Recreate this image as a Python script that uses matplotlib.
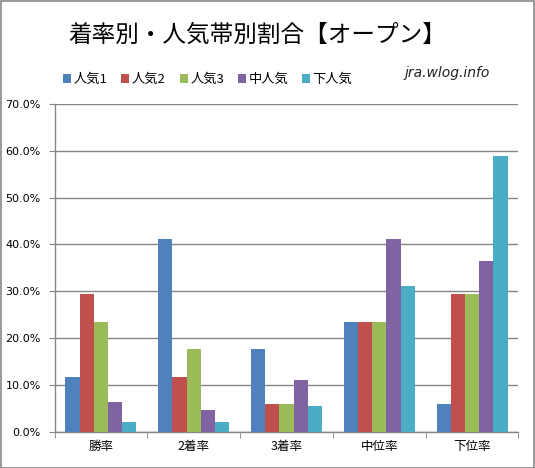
import numpy as np
import matplotlib
matplotlib.use("Agg")
import matplotlib.pyplot as plt
from matplotlib.patches import Rectangle
from matplotlib.ticker import FuncFormatter, FixedLocator

plt.rcParams["font.family"] = ["Noto Sans CJK JP", "DejaVu Sans"]

# data (percent)
categories = ["勝率", "2着率", "3着率", "中位率", "下位率"]
series_names = ["人気1", "人気2", "人気3", "中人気", "下人気"]
ninki1 = [11.8, 41.2, 17.6, 23.5, 5.9]
ninki2 = [29.4, 11.8, 5.9, 23.5, 29.4]
ninki3 = [23.5, 17.6, 5.9, 23.5, 29.4]
naka = [6.4, 4.7, 11.1, 41.2, 36.5]
shita = [2.2, 2.1, 5.6, 31.1, 58.9]
y_ticks = [0, 10, 20, 30, 40, 50, 60, 70]

colors = ["#4F81BD", "#C0504D", "#9BBB59", "#8064A2", "#4BACC6"]
grid_col = "#868686"

fig = plt.figure(figsize=(5.35, 4.68), dpi=100)
ax = fig.add_axes([0.102, 0.077, 0.867, 0.701])

x = np.arange(len(categories))
bw = 0.153
handles = []
for i, vals in enumerate([ninki1, ninki2, ninki3, naka, shita]):
    h = ax.bar(x + (i - 2) * bw, vals, width=bw, color=colors[i],
               label=series_names[i], zorder=3)
    handles.append(h)

ax.set_xlim(-0.5, len(categories) - 0.5)
ax.set_ylim(0, 70)
ax.yaxis.set_major_locator(FixedLocator(y_ticks))
ax.yaxis.set_major_formatter(FuncFormatter(lambda v, p: f"{v:.1f}%"))
ax.grid(axis="y", color=grid_col, linewidth=1.0, zorder=0)

# category labels centred, ticks at boundaries
ax.set_xticks(x)
ax.set_xticklabels(categories, fontsize=9)
ax.tick_params(axis="x", length=0, pad=6)
ax.set_xticks(np.arange(len(categories) + 1) - 0.5, minor=True)
ax.tick_params(axis="x", which="minor", length=4, color=grid_col, direction="out")
ax.tick_params(axis="y", length=4, color=grid_col, labelsize=8, pad=6)
for lab in ax.get_yticklabels():
    lab.set_family("DejaVu Sans")

for s in ["top", "right"]:
    ax.spines[s].set_visible(False)
for s in ["left", "bottom"]:
    ax.spines[s].set_color(grid_col)
    ax.spines[s].set_linewidth(1.0)

fig.text(0.48, 0.925, "着率別・人気帯別割合【オープン】", fontsize=17,
         ha="center", va="center")

fig.legend(handles=handles, loc="center left", bbox_to_anchor=(0.108, 0.83),
           ncol=5, frameon=False, fontsize=9.5, handlelength=0.6,
           handleheight=0.6, handletextpad=0.2, columnspacing=1.05,
           borderaxespad=0)

fig.text(0.836, 0.845, "jra.wlog.info", fontsize=10, ha="center", va="center",
         style="italic", family="DejaVu Sans", color="#222222")

fig.patches.append(Rectangle((0.001, 0.001), 0.997, 0.997, transform=fig.transFigure,
                             fill=False, edgecolor="#888888", linewidth=1.2))

fig.savefig("out.png", dpi=100)
